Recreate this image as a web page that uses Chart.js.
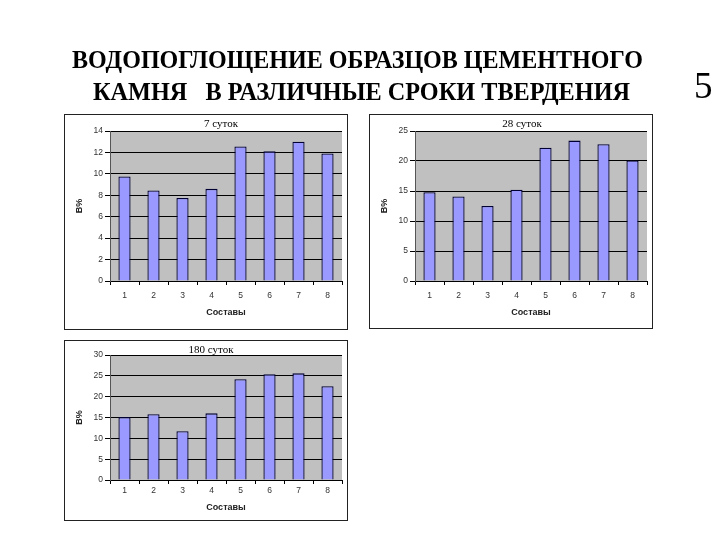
<!DOCTYPE html>
<html>
<head>
<meta charset="utf-8">
<style>
  body { margin: 0; background: #fff; width: 720px; height: 540px; position: relative; overflow: hidden; }
  #head { position: absolute; left: 0; top: 0; }
  .box { position: absolute; border: 1px solid #222; background: #fff; }
  .box canvas { display: block; }
</style>
<script src="https://cdn.jsdelivr.net/npm/chart.js@4"></script>
</head>
<body>
<canvas id="head" width="720" height="112"></canvas>

<div class="box" style="left:64px; top:114px; width:282px; height:214px;"><canvas id="chart7" width="282" height="214"></canvas></div>
<div class="box" style="left:369px; top:114px; width:282px; height:213px;"><canvas id="chart28" width="282" height="213"></canvas></div>
<div class="box" style="left:64px; top:340px; width:282px; height:179px;"><canvas id="chart180" width="282" height="179"></canvas></div>

<script>
// data
var categories = ['1', '2', '3', '4', '5', '6', '7', '8'];
var days7 = [9.75, 8.45, 7.75, 8.6, 12.55, 12.1, 13.0, 11.9];
var days28 = [14.8, 14.1, 12.5, 15.2, 22.2, 23.4, 22.8, 20.1];
var days180 = [15.1, 15.8, 11.7, 16.0, 24.2, 25.4, 25.6, 22.5];
var titles = ['7 суток', '28 суток', '180 суток'];
var yMax = [14, 25, 30];
var yStep = [2, 5, 5];
var headLines = ['ВОДОПОГЛОЩЕНИЕ ОБРАЗЦОВ ЦЕМЕНТНОГО', 'КАМНЯ   В РАЗЛИЧНЫЕ СРОКИ ТВЕРДЕНИЯ'];
var slideNo = '5';

// slide heading
(function() {
  var ctx = document.getElementById('head').getContext('2d');
  // [left, right, baseline] of each line as seen on the slide
  var spots = [[72, 643, 68], [93, 630, 100]];
  ctx.fillStyle = '#000';
  ctx.textBaseline = 'alphabetic';
  ctx.font = 'bold 25px "Liberation Serif"';
  headLines.forEach(function(line, i) {
    var s = spots[i];
    var w = ctx.measureText(line).width;
    ctx.save();
    ctx.translate(s[0], s[2]);
    ctx.scale((s[1] - s[0]) / w, 1);
    ctx.fillText(line, 0, 0);
    ctx.restore();
  });
  ctx.font = '37px "Liberation Serif"';
  ctx.fillText(slideNo, 694, 98);
})();

// grey plot area like the old Excel charts
var plotBg = {
  id: 'plotBg',
  beforeDraw: function(chart) {
    var a = chart.chartArea;
    var ctx = chart.ctx;
    ctx.save();
    ctx.fillStyle = '#c0c0c0';
    ctx.fillRect(a.left, a.top, a.right - a.left, a.bottom - a.top);
    ctx.restore();
  }
};

// small caption drawn at the top of each box
var caption = {
  id: 'caption',
  afterDraw: function(chart, args, opts) {
    var ctx = chart.ctx;
    ctx.save();
    ctx.font = '11px "Liberation Serif"';
    ctx.fillStyle = '#000';
    ctx.textAlign = 'center';
    ctx.textBaseline = 'middle';
    ctx.fillText(opts.text, opts.x, opts.y);
    ctx.restore();
  }
};

function createChart(canvasId, title, values, max, step, capX, capY, top, xHeight, tickPad, bottom) {
  var ctx = document.getElementById(canvasId).getContext('2d');
  new Chart(ctx, {
    type: 'bar',
    data: {
      labels: categories,
      datasets: [{
        data: values,
        backgroundColor: '#9999ff',
        borderColor: '#000033',
        borderWidth: 1.3,
        borderSkipped: 'bottom',
        barPercentage: 0.42,
        categoryPercentage: 1
      }]
    },
    options: {
      responsive: false,
      animation: false,
      layout: { padding: { top: top, right: 5, bottom: bottom, left: 0 } },
      plugins: {
        legend: { display: false },
        tooltip: { enabled: false },
        caption: { text: title, x: capX, y: capY }
      },
      scales: {
        x: {
          grid: { offset: true, drawOnChartArea: false, drawTicks: true, tickLength: 4, color: '#000' },
          border: { color: '#000' },
          ticks: { color: '#333', padding: tickPad, font: { family: 'Liberation Sans', size: 8.5 } },
          title: { display: true, text: 'Составы', color: '#222', padding: { top: 0, bottom: 3 },
                   font: { family: 'Liberation Sans', size: 9, weight: 'bold' } },
          afterFit: function(scale) { scale.height = xHeight; }
        },
        y: {
          min: 0,
          max: max,
          ticks: { stepSize: step, color: '#333', padding: 2, font: { family: 'Liberation Sans', size: 8.5 } },
          grid: { color: '#000', lineWidth: 1, tickLength: 5, tickColor: '#000' },
          border: { color: '#555' },
          title: { display: true, text: 'В%', color: '#222', padding: { top: 9, bottom: 0 },
                   font: { family: 'Liberation Sans', size: 9, weight: 'bold' } },
          afterFit: function(scale) { scale.width = 45; }
        }
      }
    },
    plugins: [plotBg, caption]
  });
}

createChart('chart7', titles[0], days7, yMax[0], yStep[0], 156, 9, 16, 40, 6, 8);
createChart('chart28', titles[1], days28, yMax[1], yStep[1], 152, 9, 16, 40, 6, 7);
createChart('chart180', titles[2], days180, yMax[2], yStep[2], 146, 9, 14, 36, 2, 4);
</script>
</body>
</html>
